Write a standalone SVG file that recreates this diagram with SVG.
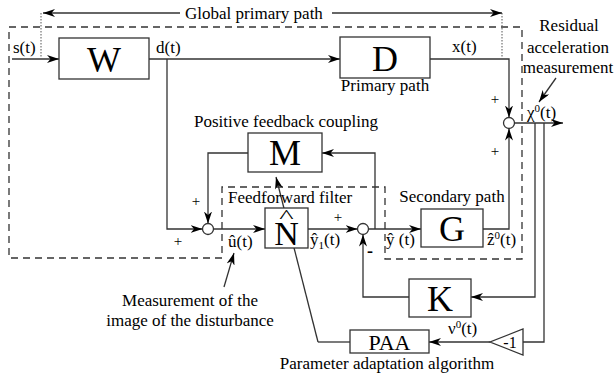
<svg xmlns="http://www.w3.org/2000/svg" width="614" height="378" viewBox="0 0 614 378">
<defs>
<marker id="ah" viewBox="0 0 12 8" refX="12" refY="4" markerWidth="12" markerHeight="8" markerUnits="userSpaceOnUse" orient="auto">
<path d="M0,0 L12,4 L0,8 L3.5,4 Z" fill="#000"/>
</marker>
<style>
text{font-family:"Liberation Serif","Times New Roman",serif;fill:#000}
.lb{font-size:17px}
.big{font-size:36px;text-anchor:middle}
.pl{font-size:15px;text-anchor:middle}
.c{text-anchor:middle}
.box{fill:#fff;stroke:#333;stroke-width:1.3}
.w{fill:none;stroke:#333;stroke-width:1.3}
.a{fill:none;stroke:#333;stroke-width:1.3;marker-end:url(#ah)}
.dash{fill:none;stroke:#333;stroke-width:1.3;stroke-dasharray:7,5}
.dot{fill:none;stroke:#555;stroke-width:1;stroke-dasharray:1.5,1.5}
.sum{fill:#fff;stroke:#333;stroke-width:1.3}
</style>
</defs>
<rect width="614" height="378" fill="#fff"/>

<g id="regions">
<path class="dash" d="M9,27 H522 V259 H385 V187 H222 V258 H9 Z"/>
</g>

<g id="connectors">
<line class="dot" x1="41" y1="13" x2="41" y2="57"/>
<line class="dot" x1="502" y1="13" x2="502" y2="57"/>
<line class="a" x1="180" y1="13" x2="43" y2="13"/>
<line class="a" x1="332" y1="13" x2="502" y2="13"/>
<line class="a" x1="12" y1="59" x2="59" y2="59"/>
<line class="a" x1="149" y1="59" x2="340" y2="59"/>
<polyline class="a" points="430,59 509,59 509,117.5"/>
<polyline class="a" points="483,229 509,229 509,128.5"/>
<line class="a" x1="514.5" y1="123" x2="563" y2="123"/>
<polyline class="a" points="535,123 535,297 471,297"/>
<polyline class="w" points="544,123 544,342 523,342"/>
<line class="a" x1="490" y1="342" x2="429" y2="342"/>
<polyline class="w" points="350,342 318,342"/>
<line class="a" x1="318" y1="342" x2="276" y2="177"/>
<polyline class="a" points="409,297 363,297 363,234.5"/>
<line class="a" x1="308" y1="229" x2="357.5" y2="229"/>
<line class="a" x1="368.5" y1="229" x2="421" y2="229"/>
<polyline class="a" points="375,229 375,153 322,153"/>
<polyline class="a" points="248,153 208,153 208,223.5"/>
<polyline class="a" points="167,59 167,229 202.5,229"/>
<line class="a" x1="213.5" y1="229" x2="265" y2="229"/>
<line class="a" x1="224" y1="287" x2="234" y2="253"/>
<line class="a" x1="556" y1="78" x2="539" y2="102"/>
</g>

<g id="W">
<rect class="box" x="59" y="38" width="90" height="41"/>
<text class="big" x="104" y="72">W</text>
</g>
<g id="D">
<rect class="box" x="340" y="37" width="90" height="41"/>
<text class="big" x="385" y="71">D</text>
<text class="lb c" x="385" y="91">Primary path</text>
</g>
<g id="M">
<rect class="box" x="248" y="133" width="74" height="39"/>
<text class="big" x="285" y="165">M</text>
<text class="lb c" x="286" y="127">Positive feedback coupling</text>
</g>
<g id="Nhat">
<rect class="box" x="265" y="208" width="43" height="40"/>
<text class="big" x="286.5" y="245" style="font-size:34px">N</text>
<text class="c" x="286.5" y="223" style="font-size:18px" transform="translate(286.5,0) scale(1.7,1) translate(-286.5,0)">^</text>
<text class="lb" x="228" y="203">Feedforward filter</text>
</g>
<g id="G">
<rect class="box" x="421" y="209" width="62" height="38"/>
<text class="big" x="452" y="241">G</text>
<text class="lb c" x="452" y="202">Secondary path</text>
</g>
<g id="K">
<rect class="box" x="409" y="279" width="62" height="38"/>
<text class="big" x="440" y="311">K</text>
</g>
<g id="PAA">
<rect class="box" x="350" y="330" width="79" height="23"/>
<text class="c" x="389.5" y="350" style="font-size:22px">PAA</text>
<text class="lb c" x="387" y="369">Parameter adaptation algorithm</text>
</g>
<g id="gain">
<polygon class="box" points="523,329 523,355 490,342"/>
<text class="c" x="510" y="348" style="font-size:16px">-1</text>
</g>
<g id="sum1">
<circle class="sum" cx="208" cy="229" r="5.5"/>
<text class="pl" x="196" y="206">+</text>
<text class="pl" x="178" y="246">+</text>
</g>
<g id="sum2">
<circle class="sum" cx="363" cy="229" r="5.5"/>
<text class="pl" x="338" y="222">+</text>
<text x="370" y="257" style="font-size:18px;font-weight:bold;text-anchor:middle">-</text>
</g>
<g id="sum3">
<circle class="sum" cx="509" cy="123" r="5.5"/>
<text class="pl" x="495" y="104">+</text>
<text class="pl" x="495" y="156">+</text>
</g>

<g id="labels">
<text class="lb" x="185" y="19">Global primary path</text>
<text class="lb" x="13" y="53">s(t)</text>
<text class="lb" x="156" y="53">d(t)</text>
<text class="lb" x="452" y="52">x(t)</text>
<text class="lb" x="527" y="118">χ<tspan dy="-6" font-size="11">0</tspan><tspan dy="6">(t)</tspan></text>
<text class="lb" x="448" y="334">ν<tspan dy="-6" font-size="11">0</tspan><tspan dy="6">(t)</tspan></text>
<text class="lb" x="310" y="245">ŷ<tspan dy="4" font-size="11">1</tspan><tspan dy="-4">(t)</tspan></text>
<text class="lb" x="386" y="245">ŷ (t)</text>
<text class="lb" x="487" y="245">ẑ<tspan dy="-6" font-size="11">0</tspan><tspan dy="6">(t)</tspan></text>
<text class="lb" x="228" y="247">û(t)</text>
<text class="lb c" x="190" y="306">Measurement of the</text>
<text class="lb c" x="190" y="326">image of the disturbance</text>
<text class="lb c" x="569" y="31">Residual</text>
<text class="lb c" x="568" y="53">acceleration</text>
<text class="lb c" x="568" y="73">measurement</text>
</g>
</svg>
